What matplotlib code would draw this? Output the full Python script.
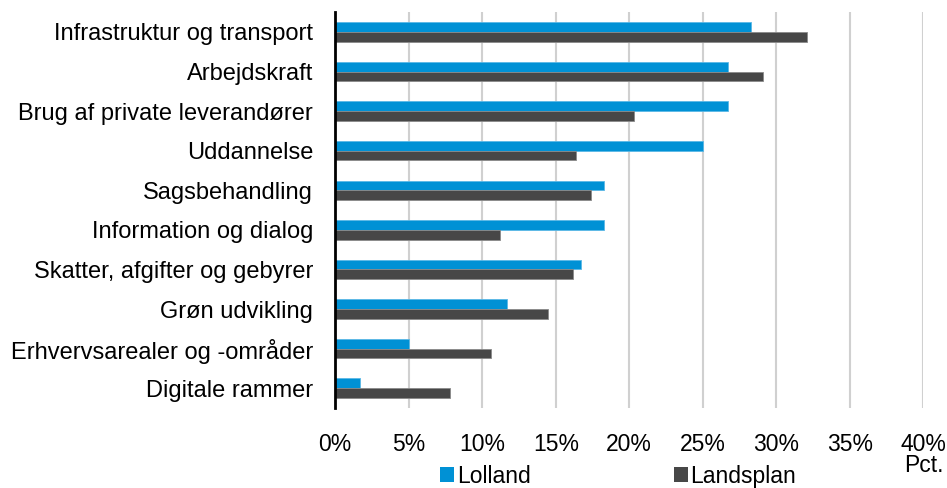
import numpy as np
import matplotlib
matplotlib.use("Agg")
import matplotlib.pyplot as plt
from matplotlib.patches import Patch
from matplotlib.ticker import PercentFormatter

plt.rcParams['font.family'] = ['Liberation Sans', 'DejaVu Sans']

# Data (pct.), ordered top to bottom
kategorier = ['Infrastruktur og transport', 'Arbejdskraft', 'Brug af private leverandører',
              'Uddannelse', 'Sagsbehandling', 'Information og dialog',
              'Skatter, afgifter og gebyrer', 'Grøn udvikling',
              'Erhvervsarealer og -områder', 'Digitale rammer']
lolland = [28.3, 26.7, 26.7, 25.0, 18.3, 18.3, 16.7, 11.7, 5.0, 1.7]
landsplan = [32.1, 29.1, 20.3, 16.4, 17.4, 11.2, 16.2, 14.5, 10.6, 7.8]
serier = ['Lolland', 'Landsplan']
farver = ['#0091D5', '#474747']

fs = 16.5
fig = plt.figure(figsize=(9.47, 4.88), dpi=100)
ax = fig.add_axes([0.354, 0.164, 0.621, 0.811])

y = np.arange(len(kategorier))
h = 0.245
ax.barh(y - h / 2, lolland, height=h, color=farver[0], edgecolor='#5BB8E6', linewidth=0.6, zorder=3)
ax.barh(y + h / 2, landsplan, height=h, color=farver[1], edgecolor='#8A8A8A', linewidth=0.6, zorder=3)

ax.set_ylim(len(kategorier) - 0.5, -0.5)
ax.set_xlim(0, 40)
ax.set_xticks(np.arange(0, 41, 5))
ax.xaxis.set_major_formatter(PercentFormatter(decimals=0))
ax.set_yticks(y)
ax.set_yticklabels(kategorier)
ax.tick_params(axis='both', length=0, labelsize=fs, colors='black')
ax.tick_params(axis='y', pad=16, labelsize=17)
ax.tick_params(axis='x', pad=18)

ax.grid(axis='x', color='#D0D0D0', linewidth=1.5, zorder=0)
for s in ['top', 'right', 'bottom']:
    ax.spines[s].set_visible(False)
ax.spines['left'].set_linewidth(2)
ax.spines['left'].set_zorder(4)

fig.text(0.996, 0.033, 'Pct.', ha='right', va='baseline', fontsize=fs)

handles = [Patch(facecolor=c, edgecolor='none') for c in farver]
fig.legend(handles, serier, loc='center', bbox_to_anchor=(0.653, 0.024), ncol=2,
           frameon=False, fontsize=fs, handlelength=0.6, handleheight=0.6,
           handletextpad=0.12, columnspacing=6.26, borderpad=0)

fig.savefig('out.png', dpi=100)
